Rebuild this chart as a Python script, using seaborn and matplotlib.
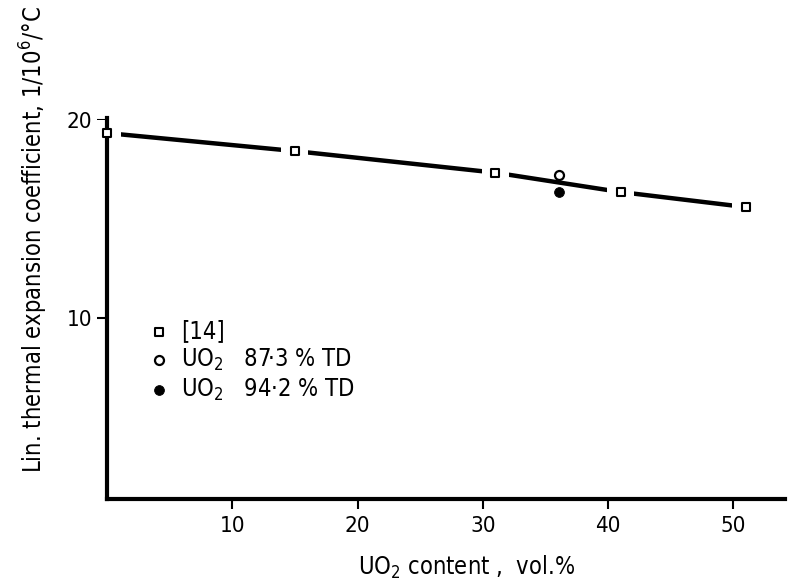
import matplotlib
matplotlib.use("Agg")
import matplotlib.pyplot as plt
import seaborn as sns
import pandas as pd

# data
ref_x = [0, 15, 31, 41, 51]
ref_y = [19.34, 18.43, 17.34, 16.36, 15.6]
td873_x = [36.1]
td873_y = [17.2]
td942_x = [36.1]
td942_y = [16.38]

x_ticks = [10, 20, 30, 40, 50]
y_ticks = [10, 20]

sns.set_theme(style="ticks")
plt.rcParams['font.family'] = ['DejaVu Sans']
plt.rcParams['font.stretch'] = 'condensed'
plt.rcParams['text.color'] = 'black'
plt.rcParams['axes.labelcolor'] = 'black'
plt.rcParams['xtick.color'] = 'black'
plt.rcParams['ytick.color'] = 'black'

fig = plt.figure(figsize=(7.89, 5.82), dpi=100)
ax = fig.add_axes([0.1356, 0.1426, 0.859, 0.6546])

df_ref = pd.DataFrame({'x': ref_x, 'y': ref_y})

# fitted line through the [14] points
sns.lineplot(data=df_ref, x='x', y='y', ax=ax, color='black', lw=3.2, zorder=1)
# white gaps round the squares
ax.scatter(ref_x, ref_y, marker='s', s=380, color='white', edgecolors='none', zorder=2,
           clip_on=False)
sns.scatterplot(data=df_ref, x='x', y='y', ax=ax, marker='s', s=30, facecolor='white',
                edgecolor='black', linewidth=1.5, zorder=3, label='[14]', clip_on=False)
sns.scatterplot(x=td873_x, y=td873_y, ax=ax, marker='o', s=42, facecolor='white',
                edgecolor='black', linewidth=1.6, zorder=3, label='UO$_2$   87·3 % TD')
sns.scatterplot(x=td942_x, y=td942_y, ax=ax, marker='o', s=50, color='black',
                edgecolor='black', zorder=3, label='UO$_2$   94·2 % TD')

ax.set_xlim(0, 54.1)
ax.set_ylim(0.85, 20.1)
ax.set_xticks(x_ticks)
ax.set_yticks(y_ticks)
ax.tick_params(axis='both', labelsize=16, width=1.5, length=7, direction='out',
               color='black', labelcolor='black')
ax.tick_params(axis='x', pad=5)

for side in ['top', 'right']:
    ax.spines[side].set_visible(False)
ax.spines['left'].set_linewidth(3)
ax.spines['bottom'].set_linewidth(3)
ax.spines['left'].set_color('black')
ax.spines['bottom'].set_color('black')

ax.set_xlabel('UO$_2$ content ,  vol.%', fontsize=17)
ax.set_ylabel('Lin. thermal expansion coefficient, 1/10$^6$/°C', fontsize=17)
ax.yaxis.set_label_coords(-0.084, 0.68)
ax.xaxis.set_label_coords(0.53, -0.145)

leg = ax.legend(loc='upper left', bbox_to_anchor=(0.047, 0.497), frameon=False,
                fontsize=17, handlelength=0.9, handletextpad=0.5, labelspacing=0.15,
                borderaxespad=0)

fig.savefig('out.png', dpi=100, facecolor='white')
